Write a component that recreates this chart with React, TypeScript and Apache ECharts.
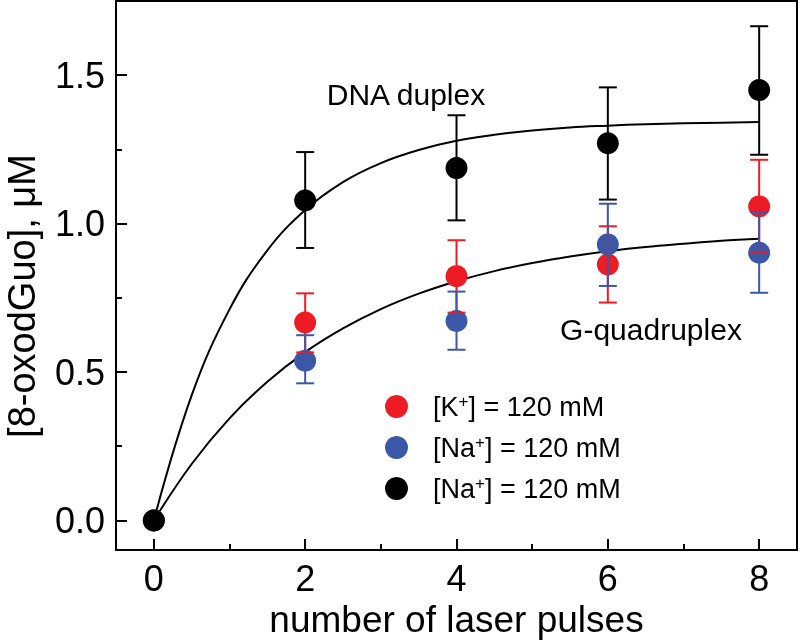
import React, { useEffect, useRef } from 'react';
import * as echarts from 'echarts';

// ---- data ----
const pulses = [0, 2, 4, 6, 8];

const kMean = [0, 0.667, 0.823, 0.862, 1.058];
const kLow = [0, 0.566, 0.700, 0.734, 0.902];
const kHigh = [0, 0.765, 0.944, 0.991, 1.215];

const naG4Mean = [0, 0.538, 0.672, 0.930, 0.902];
const naG4Low = [0, 0.462, 0.575, 0.790, 0.767];
const naG4High = [0, 0.624, 0.771, 1.067, 1.039];

const naDupMean = [0, 1.078, 1.187, 1.271, 1.450];
const naDupLow = [0, 0.918, 1.011, 1.081, 1.232];
const naDupHigh = [0, 1.241, 1.365, 1.459, 1.665];

// fitted curves
const curveX = [0, 0.5, 1, 1.5, 2, 2.5, 3, 3.5, 4, 4.5, 5, 5.5, 6, 6.5, 7, 7.5, 8];
const duplexFit = [0, 0.421, 0.711, 0.910, 1.046, 1.140, 1.204, 1.248, 1.279, 1.299, 1.314, 1.324, 1.330, 1.335, 1.338, 1.340, 1.342];
const g4Fit = [0, 0.190, 0.344, 0.467, 0.567, 0.647, 0.712, 0.764, 0.806, 0.840, 0.867, 0.889, 0.907, 0.921, 0.932, 0.942, 0.949];

const seriesKeys = ['K', 'NaG4', 'NaDup'];
const legendLabels = ['[K{sup|+}] = 120 mM', '[Na{sup|+}] = 120 mM', '[Na{sup|+}] = 120 mM'];
const xTitle = 'number of laser pulses';
const yTitle = '[8-oxodGuo], \u03bcM';
const duplexLabel = 'DNA duplex';
const g4Label = 'G-quadruplex';

const RED = '#ED1C24';
const BLUE = '#3B57A7';
const BLACK = '#000000';
const FONT = '"Liberation Sans", Arial, Helvetica, sans-serif';

function errorSeries(name: string, low: number[], high: number[], color: string) {
  const data = pulses
    .map((x, i) => [x, low[i], high[i]])
    .filter((d) => d[2] - d[1] > 1e-9);
  return {
    type: 'custom',
    name: name + '-err',
    data,
    z: 5,
    silent: true,
    encode: { x: 0, y: [1, 2] },
    renderItem: (params: any, api: any) => {
      const x = api.value(0);
      const lo = api.coord([x, api.value(1)]);
      const hi = api.coord([x, api.value(2)]);
      const half = 9;
      const st = { stroke: color, lineWidth: 2 };
      return {
        type: 'group',
        children: [
          { type: 'line', shape: { x1: lo[0], y1: lo[1], x2: hi[0], y2: hi[1] }, style: st },
          { type: 'line', shape: { x1: hi[0] - half, y1: hi[1], x2: hi[0] + half, y2: hi[1] }, style: st },
          { type: 'line', shape: { x1: lo[0] - half, y1: lo[1], x2: lo[0] + half, y2: lo[1] }, style: st },
        ],
      };
    },
  };
}

function scatter(name: string, mean: number[], color: string, z: number) {
  return {
    type: 'scatter',
    name,
    data: pulses.map((x, i) => [x, mean[i]]),
    symbol: 'circle',
    symbolSize: 22,
    itemStyle: { color, opacity: 1 },
    z,
    silent: true,
  };
}

function fitLine(name: string, ys: number[]) {
  return {
    type: 'line',
    name,
    data: curveX.map((x, i) => [x, ys[i]]),
    showSymbol: false,
    symbol: 'none',
    smooth: 0.4,
    lineStyle: { color: BLACK, width: 2 },
    z: 2,
    silent: true,
  };
}

const isMultiple = (v: number, step: number) => Math.abs(v / step - Math.round(v / step)) < 1e-6;

export default function App() {
  const ref = useRef<HTMLDivElement>(null);
  useEffect(() => {
    const chart = echarts.init(ref.current!, null, { renderer: 'svg' });
    const axisLineStyle = { color: BLACK, width: 2 };
    const option: any = {
      animation: false,
      grid: {
        left: 116,
        right: 2,
        top: 1,
        bottom: 92,
        show: true,
        borderColor: BLACK,
        borderWidth: 2,
        backgroundColor: 'transparent',
      },
      xAxis: [
        {
          type: 'value',
          min: -0.5,
          max: 8.5,
          minInterval: 2,
          maxInterval: 2,
          position: 'bottom',
          axisLine: { show: true, onZero: false, lineStyle: axisLineStyle },
          axisTick: { show: true, inside: true, length: 11, lineStyle: axisLineStyle },
          axisLabel: {
            margin: 10,
            fontSize: 36,
            color: BLACK,
            fontFamily: FONT,
            formatter: (v: number) => (isMultiple(v, 2) ? String(Math.round(v)) : ''),
          },
          splitLine: { show: false },
          name: xTitle,
          nameLocation: 'middle',
          nameGap: 50,
          nameTextStyle: { fontSize: 37, color: BLACK, fontFamily: FONT },
        },
        {
          type: 'value',
          min: -0.5,
          max: 8.5,
          minInterval: 1,
          maxInterval: 1,
          position: 'bottom',
          axisLine: { show: false, onZero: false },
          axisTick: { show: true, inside: true, length: 6, lineStyle: axisLineStyle },
          axisLabel: { show: false },
          splitLine: { show: false },
        },
      ],
      yAxis: [
        {
          type: 'value',
          min: -0.1,
          max: 1.75,
          minInterval: 0.5,
          maxInterval: 0.5,
          position: 'left',
          axisLine: { show: true, onZero: false, lineStyle: axisLineStyle },
          axisTick: { show: true, inside: true, length: 11, lineStyle: axisLineStyle },
          axisLabel: {
            margin: 11,
            fontSize: 36,
            color: BLACK,
            fontFamily: FONT,
            formatter: (v: number) => (isMultiple(v, 0.5) ? v.toFixed(1) : ''),
          },
          splitLine: { show: false },
        },
        {
          type: 'value',
          min: -0.1,
          max: 1.75,
          minInterval: 0.25,
          maxInterval: 0.25,
          position: 'left',
          axisLine: { show: false, onZero: false },
          axisTick: { show: true, inside: true, length: 6, lineStyle: axisLineStyle },
          axisLabel: { show: false },
          splitLine: { show: false },
        },
      ],
      legend: {
        data: seriesKeys,
        orient: 'vertical',
        left: 385,
        top: 393,
        padding: 0,
        itemWidth: 23,
        itemHeight: 23,
        itemGap: 14,
        icon: 'circle',
        selectedMode: false,
        formatter: (name: string) => legendLabels[seriesKeys.indexOf(name)],
        textStyle: {
          fontSize: 27,
          color: BLACK,
          fontFamily: FONT,
          padding: [0, 0, 0, 20],
          rich: {
            sup: { fontSize: 17, fontFamily: FONT, color: BLACK, verticalAlign: 'top', lineHeight: 12 },
          },
        },
      },
      graphic: [
        {
          type: 'text',
          x: 22,
          y: 296,
          rotation: Math.PI / 2,
          style: { text: yTitle, fontSize: 38, fontFamily: FONT, fill: BLACK, align: 'center', verticalAlign: 'middle' },
        },
        {
          type: 'text',
          x: 406,
          y: 94,
          style: { text: duplexLabel, fontSize: 30, fontFamily: FONT, fill: BLACK, align: 'center', verticalAlign: 'middle' },
        },
        {
          type: 'text',
          x: 651,
          y: 329,
          style: { text: g4Label, fontSize: 30, fontFamily: FONT, fill: BLACK, align: 'center', verticalAlign: 'middle' },
        },
      ],
      series: [
        fitLine('duplexFit', duplexFit),
        fitLine('g4Fit', g4Fit),
        scatter('K', kMean, RED, 3),
        scatter('NaG4', naG4Mean, BLUE, 3),
        scatter('NaDup', naDupMean, BLACK, 4),
        errorSeries('NaDup', naDupLow, naDupHigh, BLACK),
        errorSeries('K', kLow, kHigh, RED),
        errorSeries('NaG4', naG4Low, naG4High, BLUE),
      ],
    };
    chart.setOption(option);
    return () => chart.dispose();
  }, []);
  return <div ref={ref} style={{ position: 'fixed', left: 0, top: 0, width: 800, height: 643 }} />;
}
